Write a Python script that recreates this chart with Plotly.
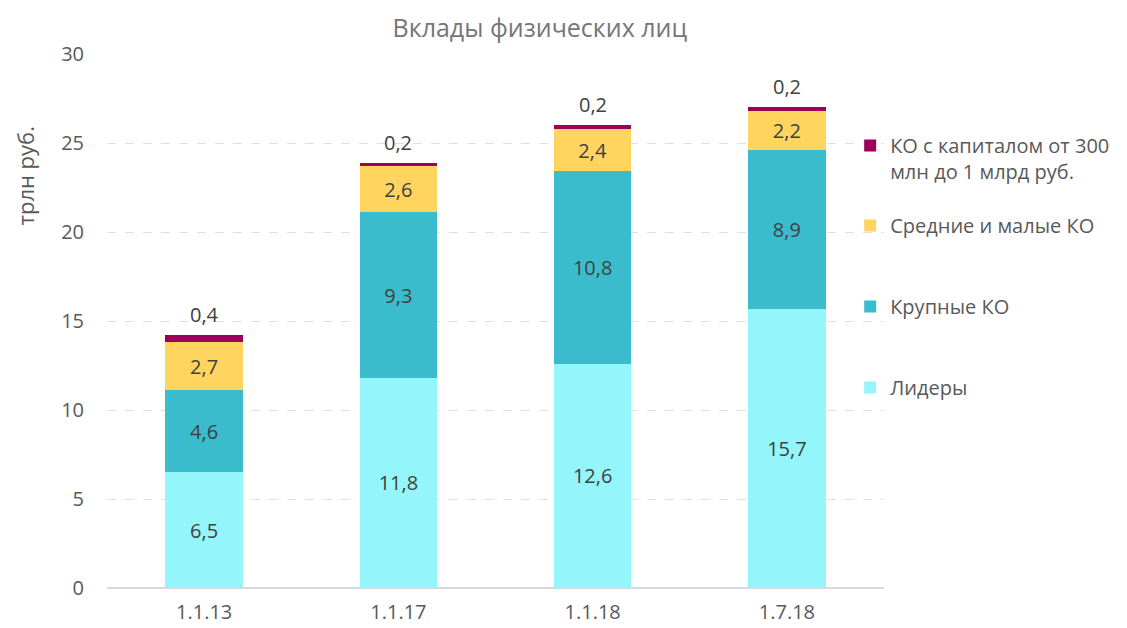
import plotly.graph_objects as go

# Deposits of individuals by group of credit institutions, trillion rubles
dates = ["1.1.13", "1.1.17", "1.1.18", "1.7.18"]
leaders = [6.5, 11.8, 12.6, 15.7]
large = [4.6, 9.3, 10.8, 8.9]
medium_small = [2.7, 2.6, 2.4, 2.2]
small_capital = [0.4, 0.2, 0.2, 0.2]

series = [
    ("Лидеры", leaders, "#94F5FA", True),
    ("Крупные КО", large, "#3BBCCC", True),
    ("Средние и малые КО", medium_small, "#FFD55F", True),
    ("КО с капиталом от 300<br>млн до 1 млрд руб.", small_capital, "#9E0059", False),
]

TEXT = "#404040"
FONT = "Open Sans"
W, H = 1127, 628
L, R, T, B = 107, 239, 54, 40
PW, PH = W - L - R, H - T - B

# each series gets its own legend box, stacked down the right side
legend_ids = ["legend4", "legend3", "legend2", "legend"]
legend_rows = [387, 306, 225, 145]   # vertical centre of the first text line, px

fig = go.Figure()
for i, (name, vals, color, inside) in enumerate(series):
    fig.add_trace(go.Bar(
        x=dates, y=vals, name=name, width=0.4,
        marker=dict(color=color, line=dict(width=0)),
        legend=legend_ids[i], showlegend=True,
        texttemplate="%{y:.1f}" if inside else None,
        textposition="inside" if inside else "none",
        insidetextanchor="middle",
        textfont=dict(color=TEXT, size=20, family=FONT),
        hoverinfo="skip",
    ))

# value of the thin top segment shown above each column
totals = [a + b + c + d for a, b, c, d in zip(leaders, large, medium_small, small_capital)]
for d, t, v in zip(dates, totals, small_capital):
    fig.add_annotation(
        x=d, y=t, text=f"{v:.1f}".replace(".", ","), showarrow=False,
        yanchor="bottom", yshift=5,
        font=dict(color=TEXT, size=20, family=FONT),
    )

# axis caption placed in the upper part of the left margin
fig.add_annotation(
    xref="paper", yref="paper",
    x=(25 - L) / PW, y=(H - B - 176) / PH,
    xanchor="center", yanchor="middle",
    text="трлн руб.", showarrow=False, textangle=-90,
    font=dict(size=22, color="#595959", family=FONT),
)

legend_style = dict(
    x=(854 - L) / PW, xanchor="left",
    yanchor="top", valign="top",
    font=dict(size=20, color="#595959", family=FONT),
    bgcolor="rgba(255,255,255,0)",
)
legend_layout = {}
for lid, row in zip(legend_ids, legend_rows):
    legend_layout[lid] = dict(legend_style, y=(H - B - (row - 19)) / PH)

fig.update_layout(
    width=W, height=H,
    barmode="stack",
    separators=", ",
    showlegend=True,
    paper_bgcolor="white", plot_bgcolor="white",
    margin=dict(l=L, r=R, t=T, b=B),
    font=dict(family=FONT, color="#595959"),
    title=dict(text="Вклады физических лиц", x=0.479, xref="container", xanchor="center",
               y=0.955, yanchor="middle", font=dict(size=25, color="#767676", family=FONT)),
    bargap=0.6,
    **legend_layout,
)
fig.update_xaxes(
    automargin=False,
    showgrid=False, showline=False, ticks="",
    tickfont=dict(size=20, color="#595959"),
    ticklabelstandoff=10,
    range=[-0.5, 3.5],
)
fig.update_yaxes(
    automargin=False,
    range=[0, 30], dtick=5,
    showgrid=True, gridcolor="#E0E0E0", griddash="dash", gridwidth=1,
    zeroline=True, zerolinecolor="#D9D9D9", zerolinewidth=2,
    tickfont=dict(size=20, color="#595959"),
    ticklabelstandoff=22,
)

fig.write_html("out.html")
